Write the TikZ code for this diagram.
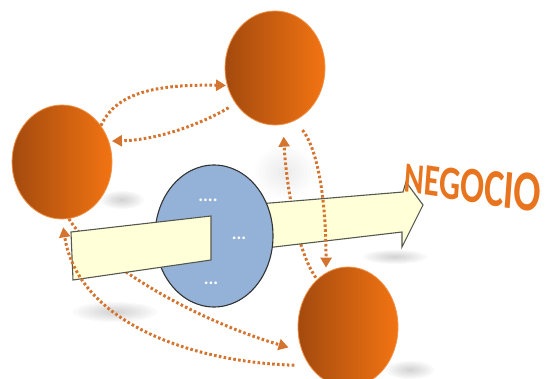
\documentclass[tikz,border=0pt]{standalone}
\usepackage{fontspec}
\newfontfamily\carlito{Carlito}
\usetikzlibrary{shapes.geometric,arrows.meta}
\definecolor{orL}{HTML}{A44A0E}
\definecolor{orR}{HTML}{F27412}
\definecolor{orRim}{HTML}{F0914A}
\definecolor{dotc}{HTML}{D5742F}
\definecolor{bluef}{HTML}{94B2D8}
\definecolor{yel}{HTML}{FFFFD8}
\definecolor{edgec}{HTML}{55584E}
\definecolor{negc}{HTML}{E8741E}
\newcommand\blurshadow[5]{%
  \foreach \k in {1,...,8}{\fill[black!60,opacity=#5] (#1,#2) ellipse [x radius={#3*\k/8}, y radius={#4*\k/8}];}}
\newcommand\negletter[5]{%
  \node[negl, font={\carlito\bfseries\fontsize{#4pt}{#4pt}\selectfont}] (#1) at (#2,#3) {#5};}
\begin{document}
\begin{tikzpicture}[x=1pt,y=-1pt,
  ball/.style={ellipse, minimum width=100pt, inner sep=0pt, left color=orL, right color=orR, draw=orRim, line width=0.8pt},
  link/.style={draw=dotc, line width=3pt, dash pattern=on 2.6pt off 2.3pt, -{Triangle[length=10pt,width=11pt]}},
  arrowpart/.style={fill=yel, draw=edgec, line width=1.1pt, line join=miter},
  hub/.style={ellipse, minimum width=118pt, minimum height=142pt, inner sep=0pt, fill=bluef, draw=black!80, line width=1.1pt},
  dots/.style={text=white, font={\carlito\bfseries\fontsize{18pt}{18pt}\selectfont}, inner sep=0pt, anchor=base},
  negl/.style={text=negc, inner sep=0pt, anchor=base, xscale=.7, rotate=-6}]
\useasboundingbox (0,0) rectangle (546,379);
% soft shadows
\blurshadow{122}{200}{22}{9}{0.04}
\blurshadow{115}{312}{42}{10}{0.04}
\blurshadow{395}{257}{32}{7}{0.04}
\blurshadow{410}{370}{24}{9}{0.04}
\blurshadow{285}{172}{30}{26}{0.015}
% orange circles
\node[ball, minimum height=114pt] (L) at (62,162) {};
\node[ball, minimum height=114pt] (T) at (275,68) {};
\node[ball, minimum height=120pt] (B) at (348,327) {};
% connectors passing behind the arrow
\draw[link, shorten <=2pt, shorten >=12pt] (B.123) .. controls (296,250) and (286,180) .. (T.-82);
\draw[link, shorten >=14pt] (L.-83) .. controls (90,255) and (180,315) .. (B.208);
% right part of the big arrow (behind hub)
\draw[arrowpart] (240,205.5) -- (403,192) -- (406,182) -- (423,205) -- (402,247) -- (402,232) -- (240,251) -- cycle;
% hub
\node[hub] (C) at (214,236) {};
\node[dots] (d1) at (208,202) {....};
\node[dots] (d2) at (239,240) {...};
\node[dots] (d3) at (211,285) {...};
% left part of the big arrow (in front of hub)
\draw[arrowpart] (71,232) -- (211,216) -- (211,260) -- (73,280) -- cycle;
% connectors in front
\draw[link, shorten >=1pt] (L.43) .. controls (115,95) and (150,84) .. (T.200);
\draw[link, shorten <=8pt, shorten >=3pt] (T.222) .. controls (205,122) and (160,140) .. (L.24);
\draw[link, shorten <=12pt, shorten >=5pt] (T.-69) .. controls (318,150) and (326,200) .. (B.112);
\draw[link, shorten <=15pt, shorten >=8pt] (B.225) .. controls (190,362) and (78,322) .. (L.-90);
% NEGOCIO
\negletter{n1}{413.7}{193.4}{43}{N}
\negletter{n2}{431}{196}{45}{E}
\negletter{n3}{449.3}{199}{47.7}{G}
\negletter{n4}{471.5}{202.6}{50.6}{O}
\negletter{n5}{493}{206}{53}{C}
\negletter{n6}{507.7}{208.2}{55}{I}
\negletter{n7}{525.8}{211}{57.5}{O}
\end{tikzpicture}
\end{document}
